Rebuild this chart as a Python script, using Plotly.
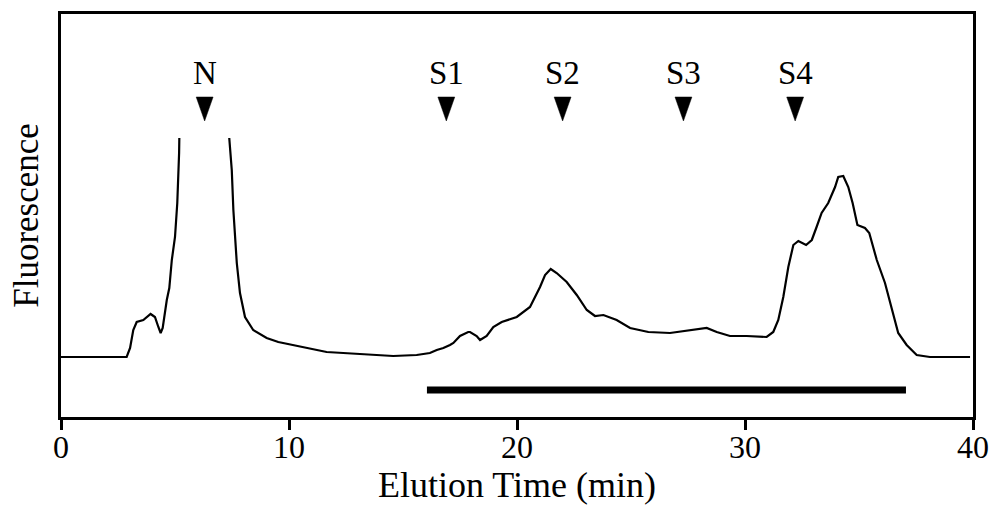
import plotly.graph_objects as go

# Chromatogram trace (time in min, fluorescence in arbitrary units); None = clipped (off-scale) N peak
time_min = [0.0, 2.88, 3.03, 3.17, 3.32, 3.61, 3.93, 4.12, 4.27, 4.37, 4.46, 4.52, 4.64, 4.75, 4.86,
             5.00, 5.10, 5.18, 5.19, None,
             7.38, 7.49, 7.56, 7.71, 7.85, 8.07, 8.43, 9.02, 9.53, 10.19, 11.65, 13.11, 14.57, 15.60,
             16.18, 16.48, 16.77, 17.06, 17.21, 17.50, 17.86, 17.94, 18.23, 18.38, 18.67, 18.96, 19.33,
             19.99, 20.57, 21.01, 21.23, 21.48, 21.74, 22.18, 22.62, 23.06, 23.42, 23.79, 24.37, 24.96,
             25.76, 26.71, 27.59, 28.32, 28.76, 29.34, 30.07, 30.95, 31.24, 31.46, 31.68, 31.90, 32.12,
             32.34, 32.68, 32.93, 33.14, 33.36, 33.65, 33.95, 34.09, 34.31, 34.53, 34.72, 34.93, 35.26,
             35.45, 35.78, 36.14, 36.36, 36.72, 37.09, 37.53, 38.11, 39.87]
fluorescence = [60, 60, 69, 87, 95, 97, 103, 100, 90, 84, 89, 100, 117, 129, 157,
                180, 214, 264, 279, None,
                279, 247, 207, 154, 124, 100, 87, 79, 75, 72, 65, 63, 61, 62,
                64, 67, 69, 72, 74, 81, 85, 85, 81, 77, 81, 90, 95,
                100, 110, 130, 142, 148, 144, 135, 122, 107, 101, 102, 97, 89,
                85, 84, 87, 89, 85, 81, 81, 80, 85, 97, 120, 150, 172,
                176, 172, 177, 190, 204, 214, 230, 240, 241, 230, 214, 192, 189,
                184, 157, 134, 114, 84, 72, 62, 60, 60]

# Peak markers
marker_labels = ["N", "S1", "S2", "S3", "S4"]
marker_times = [6.3, 16.9, 22.0, 27.3, 32.2]

# Collected fraction bar
bar_start, bar_end = 16.05, 37.06

x_ticks = [0, 10, 20, 30, 40]

FONT = "Liberation Serif"

fig = go.Figure()

fig.add_trace(go.Scatter(x=time_min, y=fluorescence, mode="lines",
                         line=dict(color="black", width=2.2), connectgaps=False,
                         hoverinfo="skip", showlegend=False))

# fraction bar
fig.add_trace(go.Scatter(x=[bar_start, bar_end], y=[27, 27], mode="lines",
                         line=dict(color="black", width=7), showlegend=False, hoverinfo="skip"))

# triangles built from marker positions
tri_half_w, tri_top, tri_bot = 0.37, 320, 296
tx, ty = [], []
for t in marker_times:
    tx += [t - tri_half_w, t + tri_half_w, t, t - tri_half_w, None]
    ty += [tri_top, tri_top, tri_bot, tri_top, None]
fig.add_trace(go.Scatter(x=tx, y=ty, mode="lines", fill="toself", fillcolor="black",
                         line=dict(color="black", width=0.5), showlegend=False, hoverinfo="skip"))

for lab, t in zip(marker_labels, marker_times):
    fig.add_annotation(x=t, y=344, text=lab, showarrow=False,
                       font=dict(family=FONT, size=33, color="black"))

fig.update_xaxes(range=[0, 40], tickvals=x_ticks, ticks="outside", ticklen=10, tickwidth=3,
                 tickcolor="black", showline=True, linewidth=3, linecolor="black", mirror=True,
                 showgrid=False, zeroline=False, automargin=False,
                 tickfont=dict(family=FONT, size=32, color="black"),
                 title=dict(text="Elution Time (min)", standoff=6,
                            font=dict(family=FONT, size=36, color="black")))
try:
    fig.update_xaxes(ticklabelstandoff=-10)
except Exception:
    pass
fig.update_yaxes(range=[0, 403], showticklabels=False, ticks="", showline=True, linewidth=3,
                 linecolor="black", mirror=True, showgrid=False, zeroline=False, automargin=False,
                 title=dict(text="Fluorescence", standoff=9,
                            font=dict(family=FONT, size=35, color="black")))

fig.update_layout(width=990, height=507, plot_bgcolor="white", paper_bgcolor="white",
                  margin=dict(l=61, r=17, t=14, b=90))

# remove the default page margin so the figure fills the window exactly
fig.write_html("out.html", config={"displayModeBar": False},
               post_script="document.body.style.margin='0';document.body.style.overflow='hidden';")
